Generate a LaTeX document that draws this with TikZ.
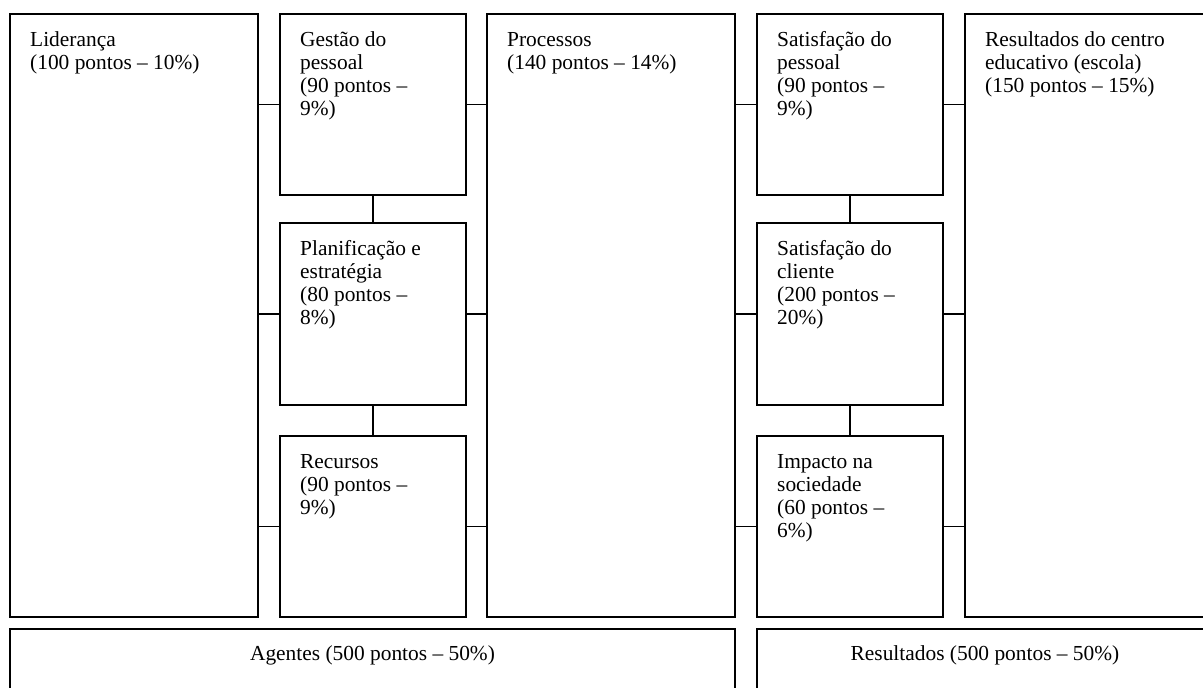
\documentclass[tikz,border=0pt]{standalone}
\usepackage{fontspec}
\setmainfont{Liberation Serif}
\usepackage{tikz}
\usetikzlibrary{positioning}

\newcommand{\linhas}[1]{\begin{tabular}[t]{@{}l@{}}#1\end{tabular}}

\tikzset{
  caixa/.style={draw, line width=1.3pt, anchor=north west, inner sep=0pt, outer sep=0pt},
  texto/.style={anchor=base west, inner sep=0pt,
    font=\fontsize{21.4}{23.3}\selectfont},
  rodape/.style={anchor=base, inner sep=0pt, font=\fontsize{21.4}{23.3}\selectfont},
  ligacao/.style={line width=1.4pt}
}

\begin{document}
\begin{tikzpicture}[x=1pt,y=-1pt]
            \clip (0,0) rectangle (1203,688);
            \fill[white] (0,0) rectangle (1203,688);

            % caixas dos agentes
            \node[caixa, minimum width=248, minimum height=603] (lid) at (10,14) {};
            \node[caixa, minimum width=186, minimum height=181] (gest) at (280,14) {};
            \node[caixa, minimum width=186, minimum height=182] (plan) at (280,223) {};
            \node[caixa, minimum width=186, minimum height=181] (rec) at (280,436) {};
            \node[caixa, minimum width=248, minimum height=603] (proc) at (487,14) {};

            % caixas dos resultados
            \node[caixa, minimum width=186, minimum height=181] (satp) at (757,14) {};
            \node[caixa, minimum width=186, minimum height=182] (satc) at (757,223) {};
            \node[caixa, minimum width=186, minimum height=181] (imp) at (757,436) {};
            \node[caixa, minimum width=300, minimum height=603] (res) at (965,14) {};

            % faixas de baixo
            \node[caixa, minimum width=725, minimum height=100] (agt) at (10,629) {};
            \node[caixa, minimum width=500, minimum height=100] (resb) at (757,629) {};

            % ligacoes
            \foreach \a in {gest,plan,rec} {
                \draw[ligacao] (\a.west -| lid.east) -- (\a.west);
                \draw[ligacao] (\a.east) -- (\a.east -| proc.west);
            }
            \foreach \a in {satp,satc,imp} {
                \draw[ligacao] (\a.west -| proc.east) -- (\a.west);
                \draw[ligacao] (\a.east) -- (\a.east -| res.west);
            }
            \draw[ligacao] (gest.south) -- (plan.north);
            \draw[ligacao] (plan.south) -- (rec.north);
            \draw[ligacao] (satp.south) -- (satc.north);
            \draw[ligacao] (satc.south) -- (imp.north);

            % textos
            \node[texto] (tlid) at ([shift={(20,32)}]lid.north west) {\linhas{Liderança\\(100 pontos – 10\%)}};
            \node[texto] (tgest) at ([shift={(20,32)}]gest.north west) {\linhas{Gestão do\\pessoal\\(90 pontos –\\9\%)}};
            \node[texto] (tplan) at ([shift={(20,32)}]plan.north west) {\linhas{Planificação e\\estratégia\\(80 pontos –\\8\%)}};
            \node[texto] (trec) at ([shift={(20,32)}]rec.north west) {\linhas{Recursos\\(90 pontos –\\9\%)}};
            \node[texto] (tproc) at ([shift={(20,32)}]proc.north west) {\linhas{Processos\\(140 pontos – 14\%)}};
            \node[texto] (tsatp) at ([shift={(20,32)}]satp.north west) {\linhas{Satisfação do\\pessoal\\(90 pontos –\\9\%)}};
            \node[texto] (tsatc) at ([shift={(20,32)}]satc.north west) {\linhas{Satisfação do\\cliente\\(200 pontos –\\20\%)}};
            \node[texto] (timp) at ([shift={(20,32)}]imp.north west) {\linhas{Impacto na\\sociedade\\(60 pontos –\\6\%)}};
            \node[texto] (tres) at ([shift={(20,32)}]res.north west) {\linhas{Resultados do centro\\educativo (escola)\\(150 pontos – 15\%)}};
            \node[rodape] (tagt) at ([shift={(0,31)}]agt.north) {Agentes (500 pontos – 50\%)};
            \node[rodape] (tresb) at ([shift={(228,31)}]resb.north west) {Resultados (500 pontos – 50\%)};
        \end{tikzpicture}
\end{document}
